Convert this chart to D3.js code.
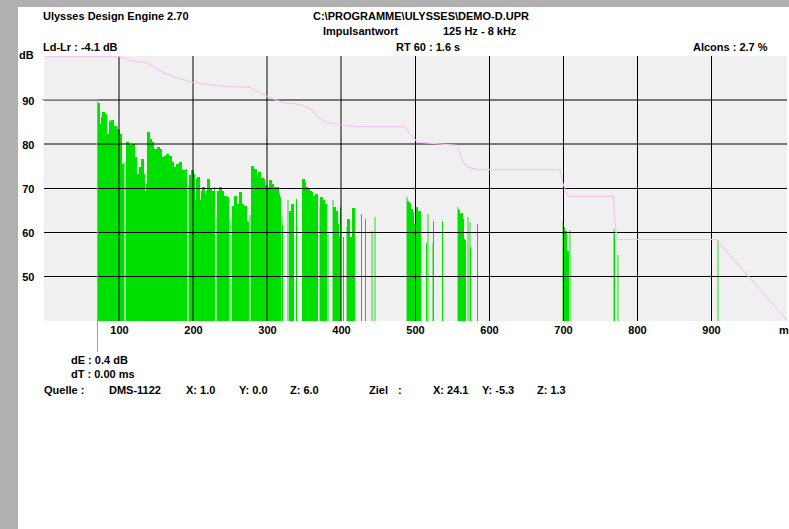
<!DOCTYPE html>
<html><head><meta charset="utf-8">
<script src="https://cdn.jsdelivr.net/npm/d3@7"></script>
<style>
body{margin:0;background:#fff}
svg{display:block}
text{font-family:"Liberation Sans",Arial,sans-serif;font-weight:bold;font-size:11px;fill:#000}
</style>
</head><body>
<svg id="c" width="789" height="529"></svg>
<script>
// ---------- data ----------
const xTicks = [100, 200, 300, 400, 500, 600, 700, 800, 900];
const yTicks = [50, 60, 70, 80, 90];
const xUnit = "m";
const yUnit = "dB";

// impulse response reflections: travel distance (m) and level (dB)
const impulseM = [71.6,73.4,75.2,77.5,79.7,82.0,84.2,86.5,88.7,91.0,93.2,95.5,97.7,100.0,102.3,104.5,
  109.0,111.3,113.5,115.8,118.0,120.3,122.5,124.8,127.0,129.3,131.5,133.8,136.0,138.3,140.5,142.8,
  145.0,147.3,149.5,151.8,154.1,156.3,158.6,160.8,163.1,165.3,167.6,169.8,172.1,174.3,176.6,178.8,
  181.1,183.3,185.6,187.8,190.1,194.6,196.8,199.1,201.4,203.6,205.9,208.1,210.4,212.6,214.9,217.1,
  219.4,221.6,223.9,226.1,228.4,232.9,235.1,237.4,239.6,241.9,244.1,246.4,253.2,255.4,257.7,259.9,
  262.2,264.4,266.7,268.9,271.2,273.4,277.9,280.4,282.7,284.9,287.2,289.4,291.7,293.9,296.2,298.4,
  300.7,302.9,305.2,307.4,309.7,311.9,314.2,316.4,320.9,329.9,332.2,334.5,339.0,347.1,349.3,351.6,
  353.8,356.1,358.3,360.6,362.8,365.1,367.3,371.8,374.1,376.4,378.6,389.4,391.7,393.9,396.2,398.4,
  402.5,408.3,410.6,414.2,417.3,426.4,431.8,488.7,490.5,492.3,494.1,495.9,497.7,501.4,503.2,507.2,
  514.4,524.8,537.0,558.1,559.9,561.7,563.5,565.3,567.1,574.3,583.3,699.5,700.9,703.2,705.0,706.8,768.9];
const impulseDb = [89.4,84.7,86.2,87.3,87.0,80.5,82.4,85.1,85.5,81.7,84.3,83.6,83.2,82.4,75.6,72.6,
  80.5,80.2,79.8,79.0,80.2,77.1,73.3,73.0,74.8,76.7,73.3,69.5,71.1,82.8,81.3,80.5,
  76.7,79.0,78.3,79.4,79.0,77.1,76.0,77.5,77.9,76.7,77.5,76.0,74.1,74.8,75.6,69.5,
  76.0,74.1,73.7,74.1,74.5,73.0,74.1,73.3,67.3,72.2,72.6,67.3,69.5,70.3,68.8,69.5,
  72.2,69.9,69.2,69.5,70.3,69.5,70.3,69.5,68.0,68.4,68.0,66.5,66.1,68.4,66.5,65.0,
  69.2,66.5,63.9,66.1,62.4,62.7,75.2,74.1,74.5,73.0,73.7,71.8,72.4,72.2,70.7,70.3,
  69.5,72.0,71.1,68.8,70.3,70.3,68.0,68.8,61.6,65.0,66.5,65.0,67.6,72.2,71.4,70.3,
  69.9,69.5,69.2,68.4,68.0,68.8,67.3,68.0,67.3,66.5,62.7,65.8,65.0,62.0,58.9,65.8,
  58.9,63.1,58.9,65.6,58.9,64.1,63.1,67.1,66.5,66.7,65.4,64.6,62.0,65.8,65.0,64.4,
  57.7,62.7,62.7,65.2,64.2,64.4,63.1,58.6,58.2,56.8,62.0,61.2,60.4,58.6,55.9,55.5,59.7];

// fainter reflections (drawn in light green)
const faintM = [86.5,106.8,192.3,230.6,248.6,275.7,318.7,327.7,369.6,380.9,387.2,406.1,439.9,444.8,
  487.4,499.5,505.4,516.7,522.5,556.8,569.8,572.5,698.2,708.1,767.6,772.5,907.7];
const faintDb = [85.5,76.0,70.5,63.5,63.0,64.0,63.5,67.3,66.1,60.1,67.3,61.2,60.4,63.5,
  68.0,58.9,63.9,64.1,57.7,65.8,63.5,62.4,62.7,60.6,60.8,54.8,58.2];

// energy decay curve (m, dB)
const decayM  = [0,100,115,138,159,178,200,223,246,277,286,304,322,345,358,372,381,399,422,486,497,504,557,565,572,584,696,700,707,768,770,773,907,1003];
const decayDb = [100,100,99.1,98.6,96.4,95.2,94.1,93.6,93.2,93.0,92.1,90.7,89.5,89.1,88.2,85.9,85.0,84.5,84.1,84.1,81.6,80.5,79.8,75.9,74.8,74.3,74.3,71.1,68.2,68.2,62.7,58.4,58.4,40];

// cursor (direct sound)
const cursorM = [-5, 70.7, 70.7];
const cursorDb = [90.3, 90.3, 33];

// ---------- drawing ----------
const W = 789, H = 529;
const svg = d3.select("#c");
svg.append("rect").attr("width", W).attr("height", H).attr("fill", "#fff");
svg.append("rect").attr("x", 0).attr("y", 0).attr("width", W).attr("height", 7).attr("fill", "#b0b0b0");
svg.append("rect").attr("x", 0).attr("y", 0).attr("width", 18).attr("height", H).attr("fill", "#b0b0b0");

const x = d3.scaleLinear().domain([0, 1000]).range([45, 785]);
const y = d3.scaleLinear().domain([40, 100]).range([320.5, 56.5]);
const plotL = 44, plotR = 787, plotT = y(100) - 0.5, plotB = y(40) + 0.5;

svg.append("rect").attr("x", plotL).attr("y", plotT)
  .attr("width", plotR - plotL).attr("height", plotB - plotT).attr("fill", "#f0f0f0");

// bar width: fill up to the next reflection when they are packed closely
function widths(ms) {
  return ms.map((m, i) => {
    const next = i < ms.length - 1 ? x(ms[i + 1]) - x(m) : 99;
    return next < 3 ? Math.ceil(next + 0.4) : 1;
  });
}
const fw = widths(faintM), mw = widths(impulseM);
const faint = faintM.map((m, i) => ({m, db: faintDb[i], w: 1}));
const main = impulseM.map((m, i) => ({m, db: impulseDb[i], w: mw[i]}));
svg.append("g").attr("shape-rendering", "crispEdges").selectAll("rect").data(faint).join("rect")
  .attr("x", d => Math.round(x(d.m))).attr("width", 1.5)
  .attr("y", d => y(d.db)).attr("height", d => plotB - y(d.db))
  .attr("fill", "#88e688");
svg.append("g").attr("shape-rendering", "crispEdges").selectAll("rect").data(main).join("rect")
  .attr("x", d => Math.round(x(d.m))).attr("width", d => d.w)
  .attr("y", d => y(d.db)).attr("height", d => plotB - y(d.db))
  .attr("fill", "#00e000");

// grid
const grid = svg.append("g").attr("shape-rendering", "crispEdges");
yTicks.forEach(v => {
  const heavy = v >= 80;
  const yy = heavy ? Math.floor(y(v)) : y(v);
  grid.append("line").attr("x1", plotL).attr("x2", plotR).attr("y1", yy).attr("y2", yy)
    .attr("stroke", "#000").attr("stroke-opacity", heavy ? 0.5 : 1).attr("stroke-width", heavy ? 2 : 1);
});
xTicks.forEach(v => {
  const heavy = v <= 400;
  const xx = heavy ? Math.round(x(v)) : Math.round(x(v)) + 0.5;
  grid.append("line").attr("x1", xx).attr("x2", xx).attr("y1", plotT).attr("y2", plotB)
    .attr("stroke", "#000").attr("stroke-opacity", heavy ? 0.5 : 1).attr("stroke-width", heavy ? 2 : 1);
});

// decay curve
svg.append("path")
  .datum(decayM.map((m, i) => [m, decayDb[i]]))
  .attr("d", d3.line().x(d => x(d[0])).y(d => y(d[1])))
  .attr("fill", "none").attr("stroke", "#f4c2f4").attr("stroke-width", 1.1);

// cursor
svg.append("path")
  .datum(cursorM.map((m, i) => [m, cursorDb[i]]))
  .attr("d", d3.line().x(d => Math.round(x(d[0])) + 0.5).y(d => Math.floor(y(d[1])) + 0.5))
  .attr("fill", "none").attr("stroke", "#f08080").attr("stroke-width", 1)
  .attr("shape-rendering", "crispEdges");

// axes
const xAxis = svg.append("g").attr("transform", `translate(0,${y(40)})`)
  .call(d3.axisBottom(x).tickValues(xTicks).tickSize(0).tickPadding(5.7));
xAxis.select(".domain").remove();
const yAxis = svg.append("g").attr("transform", `translate(${plotL},0)`)
  .call(d3.axisLeft(y).tickValues(yTicks).tickSize(0).tickPadding(9.5));
yAxis.select(".domain").remove();

svg.append("text").attr("x", 19).attr("y", 59).text(yUnit);
svg.append("text").attr("x", 779).attr("y", 334).text(xUnit);

// header / footer texts
const labels = [
  ["Ulysses Design Engine 2.70", 43, 19.5],
  ["C:\\PROGRAMME\\ULYSSES\\DEMO-D.UPR", 313, 19.5],
  ["Impulsantwort", 323, 35],
  ["125 Hz - 8 kHz", 443, 35],
  ["Ld-Lr : -4.1 dB", 43, 51],
  ["RT 60 : 1.6 s", 396, 51],
  ["Alcons : 2.7 %", 693, 51],
  ["dE : 0.4 dB", 71, 364],
  ["dT : 0.00 ms", 71, 377.5],
  ["Quelle :", 44, 394],
  ["DMS-1122", 109, 394],
  ["X: 1.0", 186, 394],
  ["Y: 0.0", 239, 394],
  ["Z: 6.0", 290, 394],
  ["Ziel", 369, 394],
  [":", 398, 394],
  ["X: 24.1", 433, 394],
  ["Y: -5.3", 482, 394],
  ["Z: 1.3", 537, 394]
];
svg.append("g").selectAll("text").data(labels).join("text")
  .attr("x", d => d[1]).attr("y", d => d[2]).text(d => d[0]);
</script>
</body></html>
